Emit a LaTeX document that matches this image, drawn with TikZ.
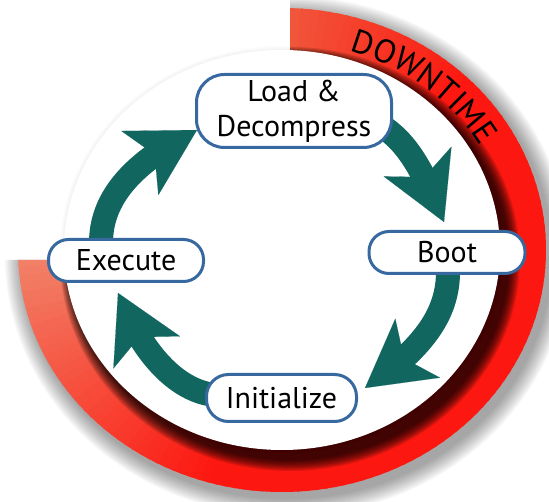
\documentclass[tikz,border=0pt]{standalone}
\usepackage{fontspec}
\setmainfont{PT Sans}
\usetikzlibrary{arrows.meta,bending,decorations.text,calc}
\pgfdeclarelayer{ringlayer}
\pgfdeclarelayer{arrowlayer}
\pgfsetlayers{ringlayer,arrowlayer,main}
\definecolor{ringred}{RGB}{252,24,16}
\definecolor{ringtop}{RGB}{240,90,62}
\definecolor{ringend}{RGB}{240,142,114}
\definecolor{tealc}{RGB}{18,102,96}
\definecolor{boxblue}{RGB}{55,105,160}
\begin{document}
\begin{tikzpicture}[x=1pt,y=-1pt,
  box/.style={draw=boxblue, line width=3pt, fill=white, align=center, inner sep=0pt,
    font=\fontsize{30}{35}\selectfont},
  bigarrow/.style={draw=tealc, line width=24pt,
    -{Stealth[length=66pt,width=74pt,inset=17pt,line width=0.1pt]}}
]
\useasboundingbox (0,0) rectangle (549,502);

\begin{pgfonlayer}{ringlayer}
\begin{scope}
  \clip (290,-10) -- (560,-10) -- (560,512) -- (-10,512) -- (-10,260) -- (290,260) -- cycle;
  % outer soft shadow
  \foreach \k in {1,...,12}{
    \fill[black,opacity=0.035] (287,256) ellipse[x radius=264+1.5*\k, y radius=242+1.5*\k];
  }
  % red ring with colour gradient along it
  \foreach \a in {268,270,...,546}{
    \pgfmathtruncatemacro{\pa}{max(0,min(100,(\a-268)/45*100))}
    \pgfmathtruncatemacro{\pc}{max(0,min(100,(\a-465)/80*100))}
    \colorlet{wc}{ringred!\pa!ringtop}
    \colorlet{wcc}{ringend!\pc!wc}
    \fill[wcc] ($(282,250)+(\a:264 and 242)$)
      arc[start angle=\a, end angle=\a+2.7, x radius=264, y radius=242]
      -- ($(282,250)+(\a+2.7:205 and 188)$)
      arc[start angle=\a+2.7, end angle=\a, x radius=205, y radius=188] -- cycle;
  }
  % shadow of the disc on the ring
  \begin{scope}
    \clip (282,250) ellipse[x radius=264, y radius=242];
    \foreach \k in {10,9,...,1}{
      \fill[black,opacity=0.12] (290,259) ellipse[x radius=218+1.2*\k, y radius=200+1.2*\k];
    }
  \end{scope}
\end{scope}
% faint halo and white disc
\foreach \k in {1,...,4}{
  \fill[black,opacity=0.012] (282,250) ellipse[x radius=218+\k, y radius=200+\k];
}
\fill[white] (282,250) ellipse[x radius=218, y radius=200];
% ring label
\path[decorate,decoration={text along path,text align=center,
    text={|\fontsize{33}{33}\selectfont|DOWNTIME}}]
  ($(282,250)+(-80:228 and 209)$) arc[start angle=-80,end angle=-22,x radius=228,y radius=209];
\end{pgfonlayer}

% nodes
\node[box, rounded corners=28pt, minimum width=195pt, minimum height=73pt] (ld) at (294,111) {Load \&\\Decompress};
\node[box, rounded corners=20pt, minimum width=156pt, minimum height=42pt] (bt) at (447,252.5) {Boot};
\node[box, rounded corners=20pt, minimum width=155pt, minimum height=42pt] (ex) at (126,260.5) {Execute};
\node[box, rounded corners=22pt, minimum width=150pt, minimum height=47pt] (in) at (281.5,398) {Initialize};

\coordinate (t1) at (197,130);
\coordinate (t2) at (444,222);
\coordinate (t3) at (365,388);
\coordinate (t4) at (118,293);

\begin{pgfonlayer}{arrowlayer}
\draw[bigarrow] ($(ex.north)+(-25,5)$) .. controls (101,200) and (130,163) .. (t1);
\draw[bigarrow] ($(ld.south east)+(-16,-26)$) .. controls (398,136) and (416.5,152) .. (t2);
\draw[bigarrow] ($(bt.south)+(1,-3)$) .. controls (448,310) and (427.7,346.4) .. (t3);
\draw[bigarrow] ($(in.west)+(10,-3)$) .. controls (183,392) and (145.5,362.8) .. (t4);
\end{pgfonlayer}
\end{tikzpicture}
\end{document}
